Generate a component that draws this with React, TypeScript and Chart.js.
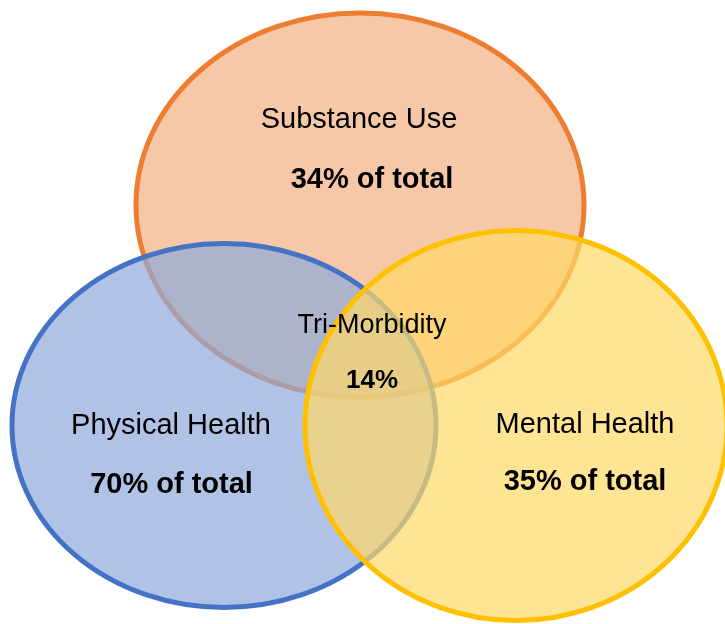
import React, { useEffect, useRef } from "react";
import { Chart, registerables } from "chart.js";

Chart.register(...registerables);

// Sets (drawn in this order)
const setNames = ["Substance Use", "Physical Health", "Mental Health"];
const setShares = ["34% of total", "70% of total", "35% of total"];
const centerX = [360, 224, 516];
const centerY = [205, 425.5, 425.5];
const radiusX = [224, 212, 211];
const radiusY = [192, 182, 195];
const strokeColors = ["#ED7D31", "#4472C4", "#FFC000"];
const fillColors = ["rgba(244,177,131,0.7)", "rgba(143,170,220,0.7)", "rgba(255,217,102,0.7)"];

// Label positions (data units)
const nameX = [359, 171, 585];
const nameY = [120, 426, 425];
const shareX = [372, 171.5, 585];
const shareY = [180, 485, 482];

const centerLabel = "Tri-Morbidity";
const centerShare = "14%";
const centerLabelX = 372;
const centerLabelY = 326;
const centerShareX = 372;
const centerShareY = 381;

const vennPlugin = {
  id: "venn",
  afterDatasetsDraw(chart: any) {
    const { ctx, scales } = chart;
    const xs = scales.x;
    const ys = scales.y;
    const px = (v: number) => xs.getPixelForValue(v);
    const py = (v: number) => ys.getPixelForValue(v);
    const sx = (r: number) => Math.abs(xs.getPixelForValue(r) - xs.getPixelForValue(0));
    const sy = (r: number) => Math.abs(ys.getPixelForValue(r) - ys.getPixelForValue(0));
    ctx.save();
    for (let i = 0; i < setNames.length; i++) {
      ctx.beginPath();
      ctx.ellipse(px(centerX[i]), py(centerY[i]), sx(radiusX[i]), sy(radiusY[i]), 0, 0, Math.PI * 2);
      ctx.fillStyle = fillColors[i];
      ctx.fill();
      ctx.lineWidth = 5;
      ctx.strokeStyle = strokeColors[i];
      ctx.stroke();
    }
    ctx.fillStyle = "#000";
    ctx.textAlign = "center";
    ctx.textBaseline = "middle";
    for (let i = 0; i < setNames.length; i++) {
      ctx.font = "29px 'Liberation Sans', Arial, sans-serif";
      ctx.fillText(setNames[i], px(nameX[i]), py(nameY[i]));
      ctx.font = "bold 29px 'Liberation Sans', Arial, sans-serif";
      ctx.fillText(setShares[i], px(shareX[i]), py(shareY[i]));
    }
    ctx.font = "27px 'Liberation Sans', Arial, sans-serif";
    ctx.fillText(centerLabel, px(centerLabelX), py(centerLabelY));
    ctx.font = "bold 26px 'Liberation Sans', Arial, sans-serif";
    ctx.fillText(centerShare, px(centerShareX), py(centerShareY));
    ctx.restore();
  },
};

export default function App() {
  const ref = useRef<HTMLCanvasElement | null>(null);
  useEffect(() => {
    document.body.style.margin = "0";
    if (!ref.current) return;
    const chart = new Chart(ref.current, {
      type: "scatter",
      data: {
        datasets: [
          {
            data: centerX.map((x, i) => ({ x, y: centerY[i] })),
            pointRadius: 0,
            pointHoverRadius: 0,
          },
        ],
      },
      options: {
        animation: false,
        responsive: false,
        maintainAspectRatio: false,
        layout: { padding: 0 },
        events: [],
        plugins: { legend: { display: false }, tooltip: { enabled: false } },
        scales: {
          x: { type: "linear", min: 0, max: 725, display: false },
          y: { type: "linear", min: 0, max: 624, reverse: true, display: false },
        },
      },
      plugins: [vennPlugin],
    });
    return () => chart.destroy();
  }, []);
  return (
    <div style={{ width: 725, height: 624, background: "#fff" }}>
      <canvas ref={ref} width={725} height={624} style={{ display: "block" }} />
    </div>
  );
}
